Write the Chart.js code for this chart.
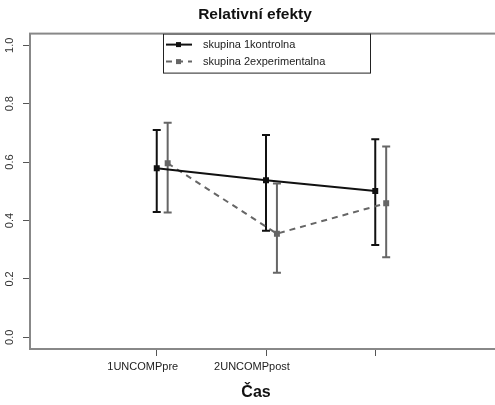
<!DOCTYPE html>
<html>
<head>
<meta charset="utf-8">
<script src="https://cdn.jsdelivr.net/npm/chart.js@4"></script>
<style>
body { margin: 0; background: #fff; overflow: hidden; }
#wrap { width: 510px; height: 405px; }
</style>
</head>
<body>
<div id="wrap"><canvas id="chart" width="510" height="405"></canvas></div>
<script>
const categories = ['1UNCOMPpre', '2UNCOMPpost', '']
const groupNames = ['skupina 1kontrolna', 'skupina 2experimentalna']
const kontrolna = [0.579, 0.538, 0.501]
const kontrolnaLo = [0.429, 0.365, 0.316]
const kontrolnaHi = [0.710, 0.693, 0.678]
const experimentalna = [0.596, 0.355, 0.459]
const experimentalnaLo = [0.427, 0.221, 0.274]
const experimentalnaHi = [0.735, 0.527, 0.653]
const yTicks = [0, 0.2, 0.4, 0.6, 0.8, 1.0]
const xTitle = 'Čas'

const FONT = '"Liberation Sans", Arial, sans-serif'
const dodge = 0.1

// build the points: x = category number, second group shifted a little
function toPoints(vals, shift) {
    return vals.map((v, i) => ({ x: i + 1 + shift, y: v }))
}

const errBars = [
    { lo: kontrolnaLo, hi: kontrolnaHi },
    { lo: experimentalnaLo, hi: experimentalnaHi }
]

const rPlot = {
    id: 'rPlot',
    beforeDatasetsDraw(chart) {
        const ctx = chart.ctx
        const xs = chart.scales.x, ys = chart.scales.y
        chart.data.datasets.forEach((ds, d) => {
            ctx.save()
            ctx.strokeStyle = ds.borderColor
            ctx.lineWidth = 2
            ds.data.forEach((p, i) => {
                const px = xs.getPixelForValue(p.x)
                const top = ys.getPixelForValue(errBars[d].hi[i])
                const bot = ys.getPixelForValue(errBars[d].lo[i])
                ctx.beginPath()
                ctx.moveTo(px, top); ctx.lineTo(px, bot)
                ctx.moveTo(px - 4, top); ctx.lineTo(px + 4, top)
                ctx.moveTo(px - 4, bot); ctx.lineTo(px + 4, bot)
                ctx.stroke()
            })
            ctx.restore()
        })
    },
    afterDraw(chart) {
        const ctx = chart.ctx
        const a = chart.chartArea
        const ys = chart.scales.y
        ctx.save()
        // box round the plot
        ctx.strokeStyle = '#888'
        ctx.lineWidth = 2
        ctx.strokeRect(a.left, a.top, a.right - a.left, a.bottom - a.top)

        // y labels, turned like R does
        ctx.fillStyle = '#333'
        ctx.font = '11px ' + FONT
        ctx.textAlign = 'center'
        ctx.textBaseline = 'middle'
        yTicks.forEach(v => {
            const py = ys.getPixelForValue(v)
            ctx.save()
            ctx.translate(a.left - 20, py)
            ctx.rotate(-Math.PI / 2)
            ctx.fillText(v.toFixed(1), 0, 0)
            ctx.restore()
        })

        // x title, sits a bit left of the middle in the original
        ctx.fillStyle = '#111'
        ctx.font = 'bold 16px ' + FONT
        ctx.fillText(xTitle, 256, a.bottom + 44)

        // legend box
        const lx = 163, ly = a.top, lw = 207, lh = 39
        ctx.fillStyle = '#fff'
        ctx.fillRect(lx, ly, lw, lh)
        ctx.strokeStyle = '#222'
        ctx.lineWidth = 1
        ctx.strokeRect(lx + 0.5, ly + 0.5, lw, lh)
        chart.data.datasets.forEach((ds, d) => {
            const ry = ly + 11 + d * 17
            ctx.strokeStyle = ds.borderColor
            ctx.fillStyle = ds.borderColor
            ctx.lineWidth = 2
            ctx.setLineDash(ds.borderDash || [])
            ctx.beginPath()
            ctx.moveTo(lx + 3, ry); ctx.lineTo(lx + 29, ry)
            ctx.stroke()
            ctx.setLineDash([])
            ctx.fillRect(lx + 13, ry - 2.5, 5, 5)
            ctx.fillStyle = '#222'
            ctx.textAlign = 'left'
            ctx.font = '11px ' + FONT
            ctx.fillText(ds.label, lx + 40, ry)
        })
        ctx.restore()
    }
}

const chart = new Chart(document.getElementById('chart'), {
    type: 'scatter',
    data: {
        datasets: [{
            label: groupNames[0],
            data: toPoints(kontrolna, 0),
            showLine: true,
            borderColor: '#111',
            backgroundColor: '#111',
            borderWidth: 2,
            pointStyle: 'rect',
            pointRadius: 2.8
        }, {
            label: groupNames[1],
            data: toPoints(experimentalna, dodge),
            showLine: true,
            borderColor: '#666',
            backgroundColor: '#666',
            borderWidth: 2,
            borderDash: [6, 5],
            pointStyle: 'rect',
            pointRadius: 2.8
        }]
    },
    options: {
        responsive: false,
        animation: false,
        layout: { padding: { left: 8, right: 8, top: 0, bottom: 0 } },
        plugins: {
            legend: { display: false },
            tooltip: { enabled: false },
            title: {
                display: true,
                text: 'Relativní efekty',
                color: '#111',
                font: { family: FONT, size: 15.5, weight: 'bold' },
                padding: { top: 5, bottom: 10 }
            }
        },
        scales: {
            x: {
                type: 'linear',
                min: -0.16,
                max: 4.16,
                afterBuildTicks: s => { s.ticks = [1, 2, 3].map(v => ({ value: v })) },
                ticks: {
                    callback: v => categories[v - 1],
                    color: '#222',
                    font: { family: FONT, size: 11 },
                    labelOffset: -14,
                    maxRotation: 0,
                    autoSkip: false,
                    padding: 4
                },
                grid: { drawOnChartArea: false, tickLength: 7, color: '#555', lineWidth: 1 },
                border: { display: false },
                afterFit: s => { s.height = 56 }
            },
            y: {
                min: -0.04,
                max: 1.04,
                afterBuildTicks: s => { s.ticks = yTicks.map(v => ({ value: v })) },
                ticks: { display: false },
                grid: { drawOnChartArea: false, tickLength: 7, color: '#555', lineWidth: 1 },
                border: { display: false },
                afterFit: s => { s.width = 22 }
            }
        }
    },
    plugins: [rPlot]
})
</script>
</body>
</html>
